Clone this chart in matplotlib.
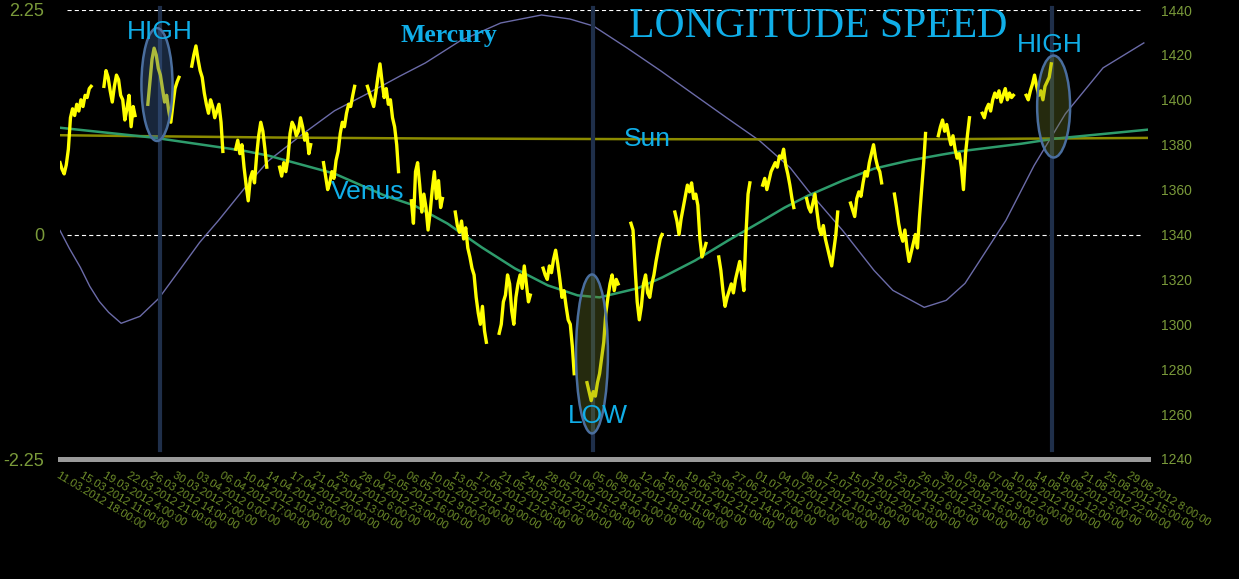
import numpy as np
import pandas as pd
import matplotlib
matplotlib.use('Agg')
import matplotlib.pyplot as plt
from matplotlib.patches import Ellipse

plt.rcParams['lines.scale_dashes'] = False
plt.rcParams['font.family'] = ['Liberation Sans', 'DejaVu Sans']

START = pd.Timestamp('2012-03-11 18:00')

# ---------------- x-axis tick labels (one every 89 hours) ----------------
tick_labels = [
    "11.03.2012 18:00:00", "15.03.2012 11:00:00", "19.03.2012 4:00:00", "22.03.2012 21:00:00",
    "26.03.2012 14:00:00", "30.03.2012 7:00:00", "03.04.2012 0:00:00", "06.04.2012 17:00:00",
    "10.04.2012 10:00:00", "14.04.2012 3:00:00", "17.04.2012 20:00:00", "21.04.2012 13:00:00",
    "25.04.2012 6:00:00", "28.04.2012 23:00:00", "02.05.2012 16:00:00", "06.05.2012 9:00:00",
    "10.05.2012 2:00:00", "13.05.2012 19:00:00", "17.05.2012 12:00:00", "21.05.2012 5:00:00",
    "24.05.2012 22:00:00", "28.05.2012 15:00:00", "01.06.2012 8:00:00", "05.06.2012 1:00:00",
    "08.06.2012 18:00:00", "12.06.2012 11:00:00", "16.06.2012 4:00:00", "19.06.2012 21:00:00",
    "23.06.2012 14:00:00", "27.06.2012 7:00:00", "01.07.2012 0:00:00", "04.07.2012 17:00:00",
    "08.07.2012 10:00:00", "12.07.2012 3:00:00", "15.07.2012 20:00:00", "19.07.2012 13:00:00",
    "23.07.2012 6:00:00", "26.07.2012 23:00:00", "30.07.2012 16:00:00", "03.08.2012 9:00:00",
    "07.08.2012 2:00:00", "10.08.2012 19:00:00", "14.08.2012 12:00:00", "18.08.2012 5:00:00",
    "21.08.2012 22:00:00", "25.08.2012 15:00:00", "29.08.2012 8:00:00",
]
tick_step_hours = 89
x_end_hours = 4162

# ---------------- price (right axis), weekly sessions, 8-hourly samples ----------------
wk_0311 = [1372, 1369, 1367, 1371, 1378, 1392, 1396, 1393, 1398, 1395, 1400, 1397, 1402, 1401, 1405, 1406]
wk_0318 = [1406, 1413, 1410, 1404, 1399, 1406, 1411, 1409, 1402, 1400, 1391, 1396, 1402, 1388, 1397, 1393]
wk_0325 = [1398, 1408, 1418, 1423, 1420, 1414, 1411, 1405, 1399, 1402, 1395, 1390, 1398, 1405, 1408, 1410]
wk_0401 = [1415, 1420, 1424, 1418, 1413, 1410, 1403, 1398, 1394, 1400, 1397, 1392, 1395, 1398, 1390, 1377]
wk_0408 = [1378, 1382, 1376, 1380, 1370, 1362, 1355, 1365, 1368, 1363, 1375, 1384, 1390, 1386, 1378, 1370]
wk_0415 = [1370, 1366, 1372, 1368, 1374, 1385, 1390, 1388, 1384, 1386, 1392, 1388, 1382, 1385, 1376, 1380]
wk_0422 = [1372, 1366, 1360, 1363, 1368, 1365, 1373, 1377, 1385, 1390, 1388, 1394, 1398, 1397, 1402, 1406]
wk_0429 = [1406, 1403, 1400, 1397, 1403, 1410, 1416, 1408, 1401, 1405, 1398, 1400, 1392, 1388, 1380, 1368]
wk_0506 = [1355, 1345, 1368, 1372, 1362, 1350, 1358, 1352, 1342, 1350, 1360, 1368, 1356, 1364, 1352, 1356]
wk_0513 = [1350, 1344, 1341, 1346, 1338, 1343, 1334, 1330, 1325, 1322, 1312, 1305, 1300, 1308, 1297, 1292]
wk_0520 = [1296, 1300, 1310, 1313, 1322, 1318, 1306, 1300, 1312, 1318, 1322, 1316, 1326, 1318, 1310, 1313]
wk_0527 = [1325, 1322, 1320, 1326, 1323, 1329, 1333, 1327, 1320, 1312, 1315, 1308, 1302, 1300, 1290, 1278]
wk_0603 = [1274, 1270, 1266, 1270, 1268, 1274, 1278, 1285, 1292, 1305, 1312, 1318, 1322, 1315, 1320, 1318]
wk_0610 = [1345, 1342, 1325, 1310, 1302, 1308, 1318, 1322, 1314, 1312, 1318, 1322, 1328, 1333, 1338, 1340]
wk_0617 = [1350, 1346, 1340, 1347, 1352, 1357, 1362, 1359, 1363, 1356, 1358, 1353, 1338, 1330, 1333, 1336]
wk_0624 = [1330, 1324, 1315, 1308, 1312, 1315, 1318, 1314, 1320, 1324, 1328, 1322, 1315, 1340, 1358, 1363]
wk_0701 = [1362, 1365, 1360, 1364, 1368, 1370, 1372, 1370, 1375, 1374, 1378, 1371, 1367, 1362, 1356, 1352]
wk_0708 = [1356, 1352, 1350, 1354, 1358, 1350, 1343, 1340, 1344, 1338, 1334, 1330, 1326, 1333, 1340, 1350]
wk_0715 = [1354, 1351, 1348, 1356, 1359, 1357, 1363, 1368, 1366, 1372, 1376, 1380, 1374, 1370, 1368, 1363]
wk_0722 = [1358, 1352, 1345, 1340, 1337, 1342, 1334, 1328, 1332, 1336, 1340, 1334, 1348, 1360, 1372, 1385]
wk_0729 = [1384, 1388, 1391, 1386, 1389, 1384, 1380, 1384, 1378, 1374, 1376, 1370, 1360, 1376, 1385, 1392]
wk_0805 = [1394, 1392, 1396, 1398, 1395, 1400, 1403, 1401, 1404, 1399, 1402, 1405, 1400, 1403, 1401, 1402]
wk_0812 = [1402, 1400, 1404, 1407, 1411, 1406, 1402, 1404, 1400, 1406, 1408, 1410, 1416]

weeks = [wk_0311, wk_0318, wk_0325, wk_0401, wk_0408, wk_0415, wk_0422, wk_0429,
         wk_0506, wk_0513, wk_0520, wk_0527, wk_0603, wk_0610, wk_0617, wk_0624,
         wk_0701, wk_0708, wk_0715, wk_0722, wk_0729, wk_0805, wk_0812]
session_hours = list(range(0, 120, 8)) + [119]

# ---------------- planetary longitude speeds (left axis, deg/day) ----------------
sun_dates = ['2012-03-11 18:00', '2012-03-26 00:00', '2012-04-15 00:00', '2012-05-10 00:00',
             '2012-06-10 00:00', '2012-07-05 00:00', '2012-08-01 00:00', '2012-09-01 00:00']
sun_speed = [0.995, 0.985, 0.972, 0.962, 0.956, 0.953, 0.956, 0.968]

venus_dates = ['2012-03-11 18:00', '2012-03-26 18:00', '2012-04-10 00:00', '2012-04-14 00:00', '2012-04-24 12:00',
               '2012-05-02 12:00', '2012-05-07 06:00', '2012-05-12 12:00', '2012-05-18 00:00', '2012-05-23 06:00',
               '2012-05-28 12:00', '2012-06-02 06:00', '2012-06-05 18:00', '2012-06-11 18:00', '2012-06-15 18:00',
               '2012-06-21 00:00', '2012-06-26 06:00', '2012-07-01 18:00', '2012-07-05 06:00', '2012-07-09 00:00',
               '2012-07-14 12:00', '2012-07-19 12:00', '2012-07-25 00:00', '2012-07-30 06:00', '2012-08-03 00:00',
               '2012-08-12 00:00', '2012-08-17 06:00', '2012-09-01 00:00']
venus_speed = [1.07, 0.97, 0.84, 0.79, 0.61,
               0.39, 0.29, 0.11, -0.13, -0.34,
               -0.51, -0.61, -0.63, -0.54, -0.43,
               -0.26, -0.06, 0.14, 0.27, 0.39,
               0.54, 0.66, 0.74, 0.80, 0.84,
               0.91, 0.96, 1.05]

mercury_dates = ['2012-03-11 18:00', '2012-03-13 06:00', '2012-03-15 00:00', '2012-03-16 12:00', '2012-03-18 00:00',
                 '2012-03-19 12:00', '2012-03-21 12:00', '2012-03-24 12:00',
                 '2012-03-27 12:00', '2012-03-31 00:00', '2012-04-03 00:00', '2012-04-06 00:00', '2012-04-10 12:00',
                 '2012-04-14 00:00', '2012-04-19 12:00', '2012-04-24 12:00', '2012-04-30 00:00', '2012-05-05 00:00',
                 '2012-05-09 00:00', '2012-05-14 12:00', '2012-05-21 00:00', '2012-05-27 12:00', '2012-06-01 00:00',
                 '2012-06-04 18:00', '2012-06-10 03:00', '2012-06-15 12:00', '2012-06-20 15:00', '2012-06-26 00:00',
                 '2012-07-01 06:00', '2012-07-06 03:00', '2012-07-09 00:00', '2012-07-14 12:00', '2012-07-19 12:00',
                 '2012-07-22 12:00', '2012-07-27 12:00', '2012-07-31 00:00', '2012-08-03 00:00', '2012-08-09 12:00',
                 '2012-08-14 00:00', '2012-08-19 00:00', '2012-08-25 00:00', '2012-08-31 12:00']
mercury_speed = [0.04, -0.14, -0.33, -0.52, -0.67,
                 -0.78, -0.89, -0.82,
                 -0.64, -0.34, -0.08, 0.14, 0.49,
                 0.74, 1.01, 1.24, 1.42, 1.59,
                 1.72, 1.94, 2.12, 2.20, 2.16,
                 2.09, 1.87, 1.64, 1.41, 1.17,
                 0.94, 0.67, 0.44, 0.04, -0.36,
                 -0.56, -0.73, -0.66, -0.49, 0.14,
                 0.69, 1.21, 1.67, 1.92]

# ---------------- marked turning points ----------------
turn_dates = ['2012-03-27 16:00', '2012-06-04 18:00', '2012-08-16 21:00']


def hours(dates):
    d = pd.to_datetime(pd.Series(dates), format='%Y-%m-%d %H:%M')
    return ((d - START) / pd.Timedelta(hours=1)).to_numpy()


# build price series with NaN gaps between weekly sessions
px_t, px_v = [], []
for k, wk in enumerate(weeks):
    px_t.extend([168 * k + h for h in session_hours[:len(wk)]])
    px_v.extend(wk)
    px_t.append(np.nan)
    px_v.append(np.nan)
px_t = np.array(px_t, dtype=float)
px_v = np.array(px_v, dtype=float)

W, H = 1239, 579
fig = plt.figure(figsize=(W / 100, H / 100), dpi=100, facecolor='black')
ax = fig.add_axes([60 / W, (H - 459) / H, 1088 / W, 449 / H])
ax.set_facecolor('black')
ax2 = ax.twinx()

lab_col = '#7a9a3a'
txt_blue = '#10aee8'

# planets
ax.plot(hours(mercury_dates), mercury_speed, color='#6b6ba8', lw=1.0, zorder=2)
ax.plot(hours(sun_dates), sun_speed, color='#8c8c00', lw=1.8, zorder=3)
ax.plot(hours(venus_dates), venus_speed, color='#2e9c6c', lw=1.8, zorder=3)

ax.set_xlim(0, x_end_hours)
ax.set_ylim(-2.25, 2.25)
ax.set_yticks([-2.25, 0, 2.25])
ax.set_yticklabels(['-2.25', '0', '2.25'])
ax.tick_params(axis='y', length=0, pad=11.5, labelsize=13, labelcolor=lab_col)

# grid lines
for yv in (2.25, 0):
    ax.axhline(yv, xmin=0.006, xmax=0.995, color='white', lw=0.8, ls=(0, (3, 2.2)), zorder=1)
ax.axhline(-2.25, color='#9a9a9a', lw=3.6, zorder=5, clip_on=False)

ax.set_xticks(np.arange(len(tick_labels)) * tick_step_hours)
ax.set_xticklabels(tick_labels, rotation=-31, ha='left', va='top', rotation_mode='anchor',
                   fontsize=8, color='#6f8f2a')
ax.tick_params(axis='x', length=0, pad=8)

# price
ax2.plot(px_t, px_v, color='#ffff00', lw=2.4, zorder=4)
ax2.set_ylim(1240, 1440)
ax2.set_yticks(np.arange(1240, 1441, 20))
ax2.tick_params(axis='y', length=0, pad=9.5, labelsize=10, labelcolor=lab_col)

for a in (ax, ax2):
    for s in a.spines.values():
        s.set_visible(False)

# vertical markers
for t in hours(turn_dates):
    ax2.plot([t, t], [1244, 1441], color='#1f2f4a', lw=3.0, zorder=3.5, clip_on=False)

# ellipses
ax2.add_patch(Ellipse((371, 1406.8), 119, 50.3, facecolor=(0.23, 0.36, 0.56, 0.42),
                      edgecolor='#4a6e9e', lw=1.8, zorder=6))
ax2.add_patch(Ellipse((2035, 1286.8), 122, 70.8, facecolor=(0.42, 0.48, 0.16, 0.35),
                      edgecolor='#4a6e9e', lw=1.8, zorder=6))
ax2.add_patch(Ellipse((3801, 1397.0), 126, 45.4, facecolor=(0.42, 0.48, 0.16, 0.35),
                      edgecolor='#4a6e9e', lw=1.8, zorder=6))

# annotations (baseline anchored)
ax2.text(383, 1427.2, 'HIGH', color=txt_blue, fontsize=19, ha='center', va='baseline', zorder=7)
ax2.text(3787, 1421.4, 'HIGH', color=txt_blue, fontsize=19, ha='center', va='baseline', zorder=7)
ax2.text(2058, 1256.2, 'LOW', color=txt_blue, fontsize=19, ha='center', va='baseline', zorder=7)
ax2.text(2246, 1379.5, 'Sun', color=txt_blue, fontsize=19, ha='center', va='baseline', zorder=7)
ax2.text(1178, 1355.9, 'Venus', color=txt_blue, fontsize=19, ha='center', va='baseline', zorder=7)
ax2.text(1488, 1425.8, 'Mercury', color=txt_blue, fontsize=18.5, fontweight='bold',
         family='Liberation Serif', ha='center', va='baseline', zorder=7)
ax2.text(2900, 1428.0, 'LONGITUDE SPEED', color=txt_blue, fontsize=30,
         family='Liberation Serif', ha='center', va='baseline', zorder=7)

fig.savefig('out.png', dpi=100, facecolor='black')
